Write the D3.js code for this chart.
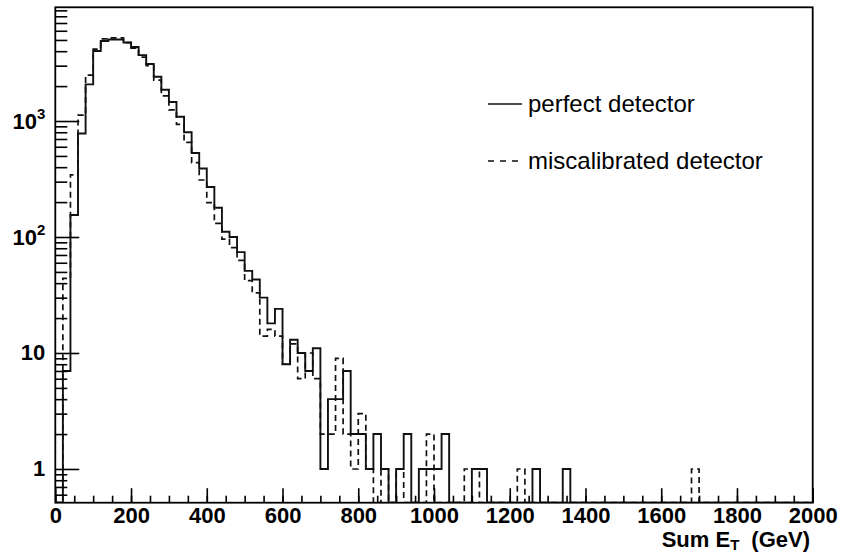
<!DOCTYPE html>
<html>
<head>
<meta charset="utf-8">
<script src="https://cdn.jsdelivr.net/npm/d3@7/dist/d3.min.js"></script>
<style>
  body { margin: 0; background: #fff; }
  svg { display: block; font-family: "Liberation Sans", Arial, Helvetica, sans-serif; }
</style>
</head>
<body>
<svg id="chart"></svg>
<script>
// Sum E_T histograms, 20 GeV bins from 0 to 2000 GeV (100 bins)
const binWidth = 20;
const xRange = [0, 2000];

const perfectCounts = [
    0, 7, 155, 780, 2070, 4010, 4900, 5050, 5050, 4750,
    4350, 3700, 3100, 2410, 1860, 1460, 1090, 800, 530, 390,
    270, 179, 111, 100, 74, 51, 43, 30, 18, 24,
    8, 13, 10, 7, 11, 1, 4, 4, 7, 2,
    2, 1, 2, 1, 0, 1, 2, 0, 1, 1,
    1, 2, 0, 0, 0, 1, 1, 0, 0, 0,
    0, 0, 0, 1, 0, 0, 0, 1, 0, 0,
    0, 0, 0, 0, 0, 0, 0, 0, 0, 0,
    0, 0, 0, 0, 0, 0, 0, 0, 0, 0,
    0, 0, 0, 0, 0, 0, 0, 0, 0, 0
];

const miscalCounts = [
    0, 44, 343, 1125, 2490, 4170, 5100, 5200, 5200, 4750,
    4250, 3560, 3000, 2250, 1650, 1250, 935, 655, 437, 310,
    198, 131, 96, 81, 63, 42, 33, 14, 16, 14,
    8, 12, 6, 10, 6, 2, 2, 9, 2, 1,
    3, 1, 0, 1, 0, 1, 0, 0, 0, 2,
    0, 0, 0, 0, 1, 1, 0, 0, 0, 0,
    0, 1, 0, 0, 0, 0, 0, 0, 0, 0,
    0, 0, 0, 0, 0, 0, 0, 0, 0, 0,
    0, 0, 0, 0, 1, 0, 0, 0, 0, 0,
    0, 0, 0, 0, 0, 0, 0, 0, 0, 0
];

const xTickValues = [0, 200, 400, 600, 800, 1000, 1200, 1400, 1600, 1800, 2000];
const yMajorTicks = [1, 10, 100, 1000];
const yTickBase = ["1", "10", "10", "10"];
const yTickExp = ["", "", "2", "3"];
const seriesNames = ["perfect detector", "miscalibrated detector"];

class LogHistogram {

    margin = {top: 7.3, bottom: 52.3, left: 55.3, right: 31.3}

    constructor(svg, width=844, height=555) {
        this.svg = svg;
        this.width = width;
        this.height = height;
    }

    initialize() {
        this.svg = d3.select(this.svg)
            .attr('width', this.width)
            .attr('height', this.height);

        this.innerW = this.width - this.margin.left - this.margin.right;
        this.innerH = this.height - this.margin.top - this.margin.bottom;

        this.xScale = d3.scaleLinear().domain(xRange).range([0, this.innerW]);
        this.yScale = d3.scaleLog().domain([0.512, 9560]).range([this.innerH, 0]);

        this.svg.append('clipPath').attr('id', 'frame-clip')
            .append('rect')
            .attr('width', this.innerW)
            .attr('height', this.innerH);

        this.container = this.svg.append('g')
            .attr('transform', `translate(${this.margin.left}, ${this.margin.top})`);
    }

    yPos(v) {
        return v > 0 ? this.yScale(v) : this.innerH;
    }

    histPath(counts) {
        let p = `M${this.xScale(0)},${this.innerH}`;
        counts.forEach((v, i) => {
            p += `V${this.yPos(v)}H${this.xScale((i + 1) * binWidth)}`;
        });
        return p;
    }

    update() {
        const hist = this.container.append('g').attr('clip-path', 'url(#frame-clip)');

        hist.append('path')
            .attr('d', this.histPath(miscalCounts))
            .attr('fill', 'none')
            .attr('stroke', '#111')
            .attr('stroke-width', 1.7)
            .attr('stroke-dasharray', '6,4');

        hist.append('path')
            .attr('d', this.histPath(perfectCounts))
            .attr('fill', 'none')
            .attr('stroke', '#111')
            .attr('stroke-width', 1.9);

        // x axis: major + minor ticks pointing up into the frame
        this.container.append('g')
            .attr('transform', `translate(0, ${this.innerH})`)
            .call(d3.axisBottom(this.xScale).ticks(40).tickSize(-7).tickFormat(''));
        const xMajor = this.container.append('g')
            .attr('transform', `translate(0, ${this.innerH})`)
            .call(d3.axisBottom(this.xScale).tickValues(xTickValues).tickSize(-14.5)
                .tickPadding(5).tickFormat(d3.format('d')));

        xMajor.selectAll('text')
            .attr('font-size', '22px')
            .attr('font-weight', 'bold')
            .attr('fill', '#000');

        // y axis: log minor ticks and decades
        const minors = this.yScale.ticks().filter(t => !yMajorTicks.includes(t));
        this.container.append('g')
            .call(d3.axisLeft(this.yScale).tickValues(minors).tickSize(-12).tickFormat(''));
        this.container.append('g')
            .call(d3.axisLeft(this.yScale).tickValues(yMajorTicks).tickSize(-24).tickFormat(''));

        this.container.selectAll('.domain').remove();
        this.container.selectAll('.tick line')
            .attr('stroke', '#000')
            .attr('stroke-width', 1.6);

        const yl = this.container.append('g')
            .selectAll('text')
            .data(yMajorTicks)
            .join('text')
            .attr('x', -10)
            .attr('y', d => this.yScale(d) + 7.5)
            .attr('text-anchor', 'end')
            .attr('font-size', '22px')
            .attr('font-weight', 'bold');
        yl.append('tspan').text((d, i) => yTickBase[i]);
        yl.append('tspan')
            .attr('font-size', '15px')
            .attr('dy', -10)
            .text((d, i) => yTickExp[i]);

        // frame
        this.container.append('rect')
            .attr('width', this.innerW)
            .attr('height', this.innerH)
            .attr('fill', 'none')
            .attr('stroke', '#000')
            .attr('stroke-width', 1.8);

        // axis title
        const title = this.svg.append('text')
            .attr('x', 810)
            .attr('y', 547)
            .attr('text-anchor', 'end')
            .attr('font-size', '22px')
            .attr('font-weight', 'bold');
        title.append('tspan').text('Sum E');
        title.append('tspan').attr('font-size', '15px').attr('dy', 3).text('T');
        title.append('tspan').attr('dy', -3).attr('dx', 12).text('(GeV)');

        // legend
        const legend = this.svg.append('g');
        const rows = legend.selectAll('g')
            .data(seriesNames)
            .join('g')
            .attr('transform', (d, i) => `translate(488, ${i === 0 ? 104 : 161})`);
        rows.append('line')
            .attr('x1', 0).attr('x2', 34)
            .attr('stroke', '#111')
            .attr('stroke-width', 1.6)
            .attr('stroke-dasharray', (d, i) => i === 0 ? null : '6,6');
        rows.append('text')
            .attr('x', 40)
            .attr('y', 8)
            .attr('font-size', '24px')
            .text(d => d);
    }
}

const chart = new LogHistogram(document.getElementById('chart'));
chart.initialize();
chart.update();
</script>
</body>
</html>
